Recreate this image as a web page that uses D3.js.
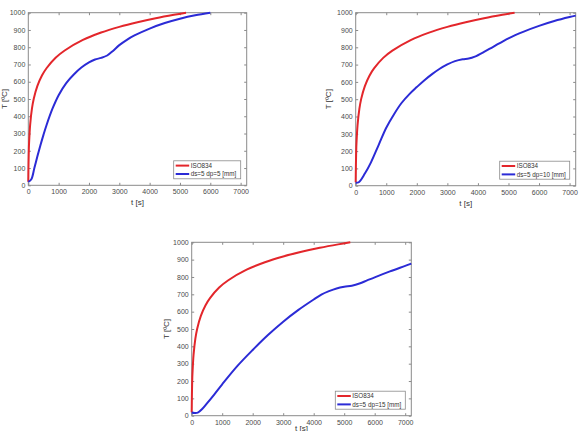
<!DOCTYPE html>
<html>
<head>
<meta charset="utf-8">
<script src="https://cdn.jsdelivr.net/npm/d3@7"></script>
<style>
  html, body { margin: 0; padding: 0; background: #fff; }
  svg { display: block; font-family: "Liberation Sans", Arial, sans-serif; }
</style>
</head>
<body>
<div id="chart"></div>
<script>
// ── Data ──────────────────────────────────────────────────────
const xTicks = [0, 1000, 2000, 3000, 4000, 5000, 6000, 7000];
const yTicks = [0, 100, 200, 300, 400, 500, 600, 700, 800, 900, 1000];

// ISO834 standard fire curve
const isoTime = [0, 5, 10, 20, 30, 60, 120, 180, 300, 450, 600, 900, 1200, 1800, 2400, 3000, 3600, 4200, 4800, 5200];
const isoTemp = [20, 96, 147, 222, 261, 349, 444, 502, 576, 636, 678, 739, 781, 842, 885, 918, 945, 968, 988, 1000];

// ds=5 dp=5
const dp5Time = [0, 100, 200, 300, 400, 500, 600, 800, 1000, 1250, 1500, 1750, 2000, 2200, 2400, 2600, 2800, 3000, 3250, 3500, 4000, 4500, 5000, 5500, 6000];
const dp5Temp = [20, 35, 100, 168, 232, 292, 348, 445, 522, 592, 642, 682, 712, 729, 738, 752, 780, 812, 843, 868, 908, 940, 965, 985, 1000];

// ds=5 dp=10
const dp10Time = [0, 100, 300, 500, 750, 1000, 1250, 1500, 1750, 2000, 2250, 2500, 2750, 3000, 3250, 3500, 3700, 3900, 4200, 4500, 5000, 5500, 6000, 6500, 7000, 7200];
const dp10Temp = [17, 20, 70, 135, 235, 335, 412, 478, 528, 570, 610, 645, 676, 701, 720, 731, 735, 746, 773, 803, 852, 891, 924, 952, 975, 983];

// ds=5 dp=15
const dp15Time = [0, 100, 200, 350, 500, 750, 1000, 1500, 2000, 2500, 3000, 3500, 4000, 4250, 4500, 4750, 5000, 5250, 5500, 5750, 6000, 6500, 7000, 7200];
const dp15Temp = [19, 16, 18, 40, 71, 125, 181, 287, 379, 465, 542, 610, 670, 698, 718, 734, 744, 750, 762, 780, 798, 832, 864, 877];

const legendIso = 'ISO834';
const legendLabels = ['ds=5 dp=5 [mm]', 'ds=5 dp=10 [mm]', 'ds=5 dp=15 [mm]'];
const seriesTime = [dp5Time, dp10Time, dp15Time];
const seriesTemp = [dp5Temp, dp10Temp, dp15Temp];

// ── Layout ────────────────────────────────────────────────────
const W = 579, H = 431;
const panels = [
  { left: 28.3,  top: 12.7,  right: 246.7, bottom: 185.3, ylabDx: 21, xlabDy: 20 },
  { left: 355.7, top: 12.7,  right: 575.7, bottom: 185.7, ylabDx: 25, xlabDy: 20 },
  { left: 191.7, top: 242.3, right: 411.3, bottom: 415.7, ylabDx: 23, xlabDy: 14.8 },
];

const RED = '#e3262b';
const BLUE = '#2b2bd6';
const AXIS = '#8a8a8a';
const TICKTXT = '#4a4a4a';

const svg = d3.select('#chart').append('svg')
  .attr('width', W)
  .attr('height', H);

panels.forEach((p, i) => {
  const x = d3.scaleLinear().domain([0, 7200]).range([p.left, p.right]);
  const y = d3.scaleLinear().domain([0, 1000]).range([p.bottom, p.top]);
  const g = svg.append('g');

  // box
  g.append('rect')
    .attr('x', p.left).attr('y', p.top)
    .attr('width', p.right - p.left).attr('height', p.bottom - p.top)
    .attr('fill', '#fff').attr('stroke', AXIS).attr('stroke-width', 1);

  // axes (ticks inward, also on top/right)
  const tl = 2.5;
  const styleAxis = sel => {
    sel.select('.domain').remove();
    sel.selectAll('line').attr('stroke', AXIS);
    sel.selectAll('text').attr('fill', TICKTXT).attr('font-size', 7);
  };
  g.append('g').attr('transform', `translate(0,${p.bottom})`)
    .call(d3.axisBottom(x).tickValues(xTicks).tickSize(-tl).tickPadding(4).tickFormat(d3.format('d')))
    .call(styleAxis);
  g.append('g').attr('transform', `translate(0,${p.top})`)
    .call(d3.axisTop(x).tickValues(xTicks).tickSize(-tl).tickFormat(''))
    .call(styleAxis);
  g.append('g').attr('transform', `translate(${p.left},0)`)
    .call(d3.axisLeft(y).tickValues(yTicks).tickSize(-tl).tickPadding(3).tickFormat(d3.format('d')))
    .call(styleAxis);
  g.append('g').attr('transform', `translate(${p.right},0)`)
    .call(d3.axisRight(y).tickValues(yTicks).tickSize(-tl).tickFormat(''))
    .call(styleAxis);

  // lines
  const line = d3.line()
    .x(d => x(d[0])).y(d => y(d[1]))
    .curve(d3.curveCatmullRom.alpha(0.5));
  const isoPts = d3.zip(isoTime, isoTemp);
  const bluePts = d3.zip(seriesTime[i], seriesTemp[i]);

  g.append('path').datum(isoPts).attr('d', line)
    .attr('fill', 'none').attr('stroke', RED).attr('stroke-width', 2);
  g.append('path').datum(bluePts).attr('d', line)
    .attr('fill', 'none').attr('stroke', BLUE).attr('stroke-width', 2);

  // axis labels
  g.append('text')
    .attr('x', (p.left + p.right) / 2).attr('y', p.bottom + p.xlabDy)
    .attr('text-anchor', 'middle').attr('font-size', 8).attr('fill', '#333')
    .text('t [s]');
  g.append('text')
    .attr('transform', `translate(${p.left - p.ylabDx},${(p.top + p.bottom) / 2}) rotate(-90)`)
    .attr('text-anchor', 'middle').attr('font-size', 8).attr('fill', '#333')
    .text('T [ºC]');

  // legend (southeast)
  const lw = i === 0 ? 67 : 70, lh = 18;
  const lx = p.right - 6 - lw, ly = p.bottom - 6.5 - lh;
  const lg = g.append('g');
  lg.append('rect').attr('x', lx).attr('y', ly).attr('width', lw).attr('height', lh)
    .attr('fill', '#fff').attr('stroke', AXIS).attr('stroke-width', 0.8);
  [[RED, legendIso], [BLUE, legendLabels[i]]].forEach(([c, t], k) => {
    const yy = ly + 4.8 + k * 8.4;
    lg.append('line').attr('x1', lx + 2).attr('x2', lx + 15.5)
      .attr('y1', yy).attr('y2', yy)
      .attr('stroke', c).attr('stroke-width', 2);
    lg.append('text').attr('x', lx + 17).attr('y', yy + 2.3)
      .attr('font-size', 6.3).attr('fill', '#333').text(t);
  });
});
</script>
</body>
</html>
